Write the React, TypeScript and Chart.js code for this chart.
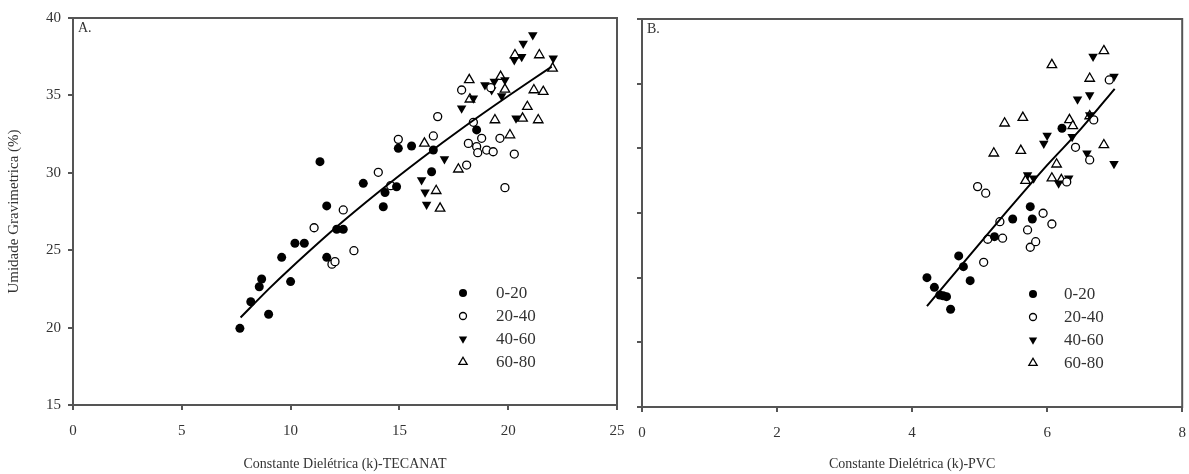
import React, { useEffect, useRef } from 'react';
import { Chart, registerables } from 'chart.js';
Chart.register(...registerables);

const SERIES_LABELS = ['0-20', '20-40', '40-60', '60-80'];

// Panel A – TECANAT
const tec_k_0_20 = [7.67, 8.17, 8.56, 8.67, 8.99, 9.59, 10.0, 10.2, 10.63, 11.35, 11.66, 11.66, 12.12, 12.42, 13.34, 14.26, 14.34, 14.87, 14.95, 15.56, 16.48, 16.56, 18.55];
const tec_u_0_20 = [19.95, 21.67, 22.64, 23.14, 20.86, 24.54, 22.97, 25.45, 25.45, 30.72, 27.86, 24.54, 26.35, 26.35, 29.32, 27.81, 28.72, 29.1, 31.58, 31.73, 30.07, 31.47, 32.77];
const tec_k_20_40 = [11.08, 11.9, 12.04, 12.42, 12.91, 14.03, 14.6, 14.95, 16.56, 16.76, 17.86, 18.09, 18.17, 18.4, 18.55, 18.6, 18.78, 19.01, 19.2, 19.31, 19.62, 19.85, 20.28];
const tec_u_20_40 = [26.45, 24.1, 24.26, 27.6, 24.97, 30.03, 29.17, 32.16, 32.38, 33.63, 35.35, 30.5, 31.9, 33.26, 31.69, 31.3, 32.23, 31.47, 35.5, 31.36, 32.23, 29.04, 31.21];
const tec_k_40_60 = [16.02, 16.18, 16.25, 17.07, 17.86, 18.4, 18.93, 19.24, 19.36, 19.7, 19.85, 20.28, 20.36, 20.62, 20.69, 21.13, 22.07];
const tec_u_40_60 = [29.53, 28.74, 27.96, 30.89, 34.17, 34.81, 35.67, 35.35, 35.89, 34.96, 36.0, 37.29, 33.52, 37.5, 38.36, 38.9, 37.4];
const tec_k_60_80 = [16.15, 16.69, 16.87, 17.71, 18.21, 18.24, 19.39, 19.65, 19.85, 20.08, 20.31, 20.66, 20.88, 21.18, 21.38, 21.43, 21.61, 22.04];
const tec_u_60_80 = [31.9, 28.84, 27.7, 30.23, 36.0, 34.75, 33.41, 36.21, 35.39, 32.44, 37.61, 33.52, 34.27, 35.35, 33.41, 37.61, 35.24, 36.75];
const tec_fit_k = [7.7, 9, 10, 12, 14, 16, 18, 20, 22];
const tec_fit_u = [20.65, 22.5, 23.84, 26.37, 28.71, 30.91, 32.99, 34.96, 36.86];

// Panel B – PVC
const pvc_k_0_20 = [4.22, 4.33, 4.41, 4.46, 4.51, 4.57, 4.69, 4.76, 4.86, 5.22, 5.49, 5.75, 5.78, 6.22];
const pvc_u_0_20 = [25.0, 24.25, 23.66, 23.6, 23.53, 22.56, 26.68, 25.85, 24.77, 28.17, 29.54, 30.49, 29.54, 36.55];
const pvc_k_20_40 = [4.97, 5.09, 5.06, 5.12, 5.3, 5.34, 5.71, 5.75, 5.83, 5.94, 6.07, 6.29, 6.42, 6.63, 6.69, 6.92];
const pvc_u_20_40 = [32.04, 31.53, 26.19, 27.97, 29.33, 28.05, 28.69, 27.35, 27.78, 29.98, 29.15, 32.4, 35.08, 34.1, 37.2, 40.29];
const pvc_k_40_60 = [5.71, 5.8, 5.95, 6.0, 6.17, 6.32, 6.37, 6.45, 6.59, 6.63, 6.63, 6.68, 6.99, 6.99];
const pvc_u_40_60 = [32.94, 32.69, 35.38, 36.0, 32.3, 32.69, 35.9, 38.8, 34.62, 37.58, 39.13, 42.1, 40.55, 33.8];
const pvc_k_60_80 = [5.21, 5.37, 5.61, 5.64, 5.68, 6.07, 6.07, 6.14, 6.21, 6.33, 6.38, 6.63, 6.63, 6.84, 6.84];
const pvc_u_60_80 = [34.62, 36.94, 34.82, 37.38, 32.5, 32.69, 41.45, 33.77, 32.56, 37.2, 36.73, 40.4, 37.5, 35.26, 42.53];
const pvc_fit_k = [4.22, 4.8, 5.4, 6.0, 6.5, 7.0];
const pvc_fit_u = [22.8, 26.4, 30.1, 33.7, 36.5, 39.6];

const TEXT = '#333';
const AXIS = '#555';
const FONT = '"Liberation Serif", "Times New Roman", serif';

const zip = (xs: number[], ys: number[]) => xs.map((x, i) => ({ x, y: ys[i] }));

const KINDS = ['fcircle', 'ocircle', 'dtri', 'otri'];

function styleProps(kind: string) {
  switch (kind) {
    case 'fcircle':
      return { pointStyle: 'circle', pointRadius: 4.5, backgroundColor: '#000', borderColor: '#000', borderWidth: 0, rotation: 0 };
    case 'ocircle':
      return { pointStyle: 'circle', pointRadius: 4, backgroundColor: '#fff', borderColor: '#000', borderWidth: 1.3, rotation: 0 };
    case 'dtri':
      return { pointStyle: 'triangle', pointRadius: 5.5, backgroundColor: '#000', borderColor: '#000', borderWidth: 0, rotation: 180 };
    default:
      return { pointStyle: 'triangle', pointRadius: 5.5, backgroundColor: '#fff', borderColor: '#000', borderWidth: 1.3, rotation: 0 };
  }
}

function drawMarker(ctx: CanvasRenderingContext2D, kind: string, x: number, y: number) {
  ctx.save();
  ctx.lineWidth = 1.3;
  ctx.strokeStyle = '#000';
  ctx.beginPath();
  if (kind === 'fcircle' || kind === 'ocircle') {
    ctx.arc(x, y, kind === 'fcircle' ? 4 : 3.5, 0, Math.PI * 2);
  } else {
    const r = 4.8;
    const s = kind === 'dtri' ? -1 : 1;
    ctx.moveTo(x, y - s * r);
    ctx.lineTo(x + r * 0.866, y + s * r * 0.5);
    ctx.lineTo(x - r * 0.866, y + s * r * 0.5);
    ctx.closePath();
  }
  if (kind === 'fcircle' || kind === 'dtri') {
    ctx.fillStyle = '#000';
    ctx.fill();
  } else {
    ctx.fillStyle = '#fff';
    ctx.fill();
    ctx.stroke();
  }
  ctx.restore();
}

const framePlugin = {
  id: 'frame',
  afterDraw(chart: any, _args: any, opts: any) {
    const { ctx, chartArea: a } = chart;
    ctx.save();
    ctx.strokeStyle = AXIS;
    ctx.lineWidth = 2;
    ctx.strokeRect(a.left, a.top, a.right - a.left, a.bottom - a.top);
    ctx.fillStyle = TEXT;
    ctx.font = `14px ${FONT}`;
    ctx.textBaseline = 'top';
    ctx.textAlign = 'left';
    ctx.fillText(opts.label, a.left + 5, a.top + 3);
    ctx.font = `17px ${FONT}`;
    ctx.textBaseline = 'middle';
    KINDS.forEach((kind, i) => {
      const y = a.top + opts.legendTop + i * 23;
      drawMarker(ctx, kind, a.left + opts.markerX, y);
      ctx.fillStyle = TEXT;
      ctx.fillText(SERIES_LABELS[i], a.left + opts.textX, y + 1);
    });
    ctx.restore();
  },
};

function buildDatasets(groups: { k: number[]; u: number[] }[], fitK: number[], fitU: number[]) {
  const ds: any[] = [
    {
      label: 'fit',
      data: zip(fitK, fitU),
      showLine: true,
      borderColor: '#000',
      borderWidth: 2,
      pointRadius: 0,
      fill: false,
      tension: 0.3,
    },
  ];
  groups.forEach((g, i) => {
    ds.push({ label: SERIES_LABELS[i], data: zip(g.k, g.u), ...styleProps(KINDS[i]) });
  });
  return ds;
}

function Panel(props: any) {
  const ref = useRef<HTMLCanvasElement>(null);
  useEffect(() => {
    if (!ref.current) return;
    const chart = new Chart(ref.current, {
      type: 'scatter',
      data: { datasets: props.datasets },
      plugins: [framePlugin],
      options: {
        animation: false,
        responsive: false,
        layout: { padding: { top: props.padTop, right: props.padRight, left: 0, bottom: 0 } },
        plugins: {
          legend: { display: false },
          tooltip: { enabled: false },
          frame: { label: props.label, markerX: props.markerX, textX: props.textX, legendTop: props.legendTop },
        },
        scales: {
          x: {
            type: 'linear',
            min: props.xMin,
            max: props.xMax,
            afterFit: (s: any) => {
              s.height = props.xHeight;
              s.paddingLeft = 0;
              s.paddingRight = 0;
            },
            ticks: { stepSize: props.xStep, color: TEXT, font: { family: FONT, size: 15 }, padding: 12, maxRotation: 0 },
            grid: { drawOnChartArea: false, drawTicks: true, tickLength: 5, color: AXIS, lineWidth: 2 },
            border: { display: true, color: AXIS, width: 2 },
            title: { display: true, text: props.xTitle, color: TEXT, font: { family: FONT, size: 14 }, padding: { top: 0, bottom: 1 } },
          },
          y: {
            type: 'linear',
            min: props.yMin,
            max: props.yMax,
            afterFit: (s: any) => {
              s.width = props.yWidth;
              s.paddingTop = 0;
              s.paddingBottom = 0;
            },
            ticks: {
              stepSize: props.yStep,
              color: props.showYLabels ? TEXT : 'rgba(0,0,0,0)',
              font: { family: FONT, size: 15 },
              padding: 7,
            },
            grid: { drawOnChartArea: false, drawTicks: true, tickLength: 5, color: AXIS, lineWidth: 2 },
            border: { display: true, color: AXIS, width: 2 },
            title: props.yTitle
              ? { display: true, text: props.yTitle, color: TEXT, font: { family: FONT, size: 15 }, padding: { top: 5, bottom: 0 } }
              : { display: false },
          },
        },
      } as any,
    });
    return () => chart.destroy();
  }, []);
  return (
    <canvas
      ref={ref}
      width={props.width}
      height={474}
      style={{ position: 'absolute', left: props.left, top: 0, width: props.width, height: 474 }}
    />
  );
}

export default function App() {
  const tecDatasets = buildDatasets(
    [
      { k: tec_k_0_20, u: tec_u_0_20 },
      { k: tec_k_20_40, u: tec_u_20_40 },
      { k: tec_k_40_60, u: tec_u_40_60 },
      { k: tec_k_60_80, u: tec_u_60_80 },
    ],
    tec_fit_k,
    tec_fit_u
  );
  const pvcDatasets = buildDatasets(
    [
      { k: pvc_k_0_20, u: pvc_u_0_20 },
      { k: pvc_k_20_40, u: pvc_u_20_40 },
      { k: pvc_k_40_60, u: pvc_u_40_60 },
      { k: pvc_k_60_80, u: pvc_u_60_80 },
    ],
    pvc_fit_k,
    pvc_fit_u
  );
  return (
    <div style={{ position: 'absolute', left: 0, top: 0, width: 1189, height: 474, background: '#fff', overflow: 'hidden' }}>
      <Panel
        left={0}
        width={630}
        datasets={tecDatasets}
        xMin={0} xMax={25} xStep={5}
        yMin={15} yMax={40} yStep={5}
        yWidth={73} xHeight={69} padTop={18} padRight={13}
        showYLabels={true}
        xTitle="Constante Dielétrica (k)-TECANAT"
        yTitle="Umidade Gravimetrica (%)"
        label="A."
        markerX={390} textX={423} legendTop={275}
      />
      <Panel
        left={630}
        width={559}
        datasets={pvcDatasets}
        xMin={0} xMax={8} xStep={2}
        yMin={15} yMax={45} yStep={5}
        yWidth={12} xHeight={67} padTop={19} padRight={3}
        showYLabels={false}
        xTitle="Constante Dielétrica (k)-PVC"
        label="B."
        markerX={391} textX={422} legendTop={275}
      />
    </div>
  );
}
